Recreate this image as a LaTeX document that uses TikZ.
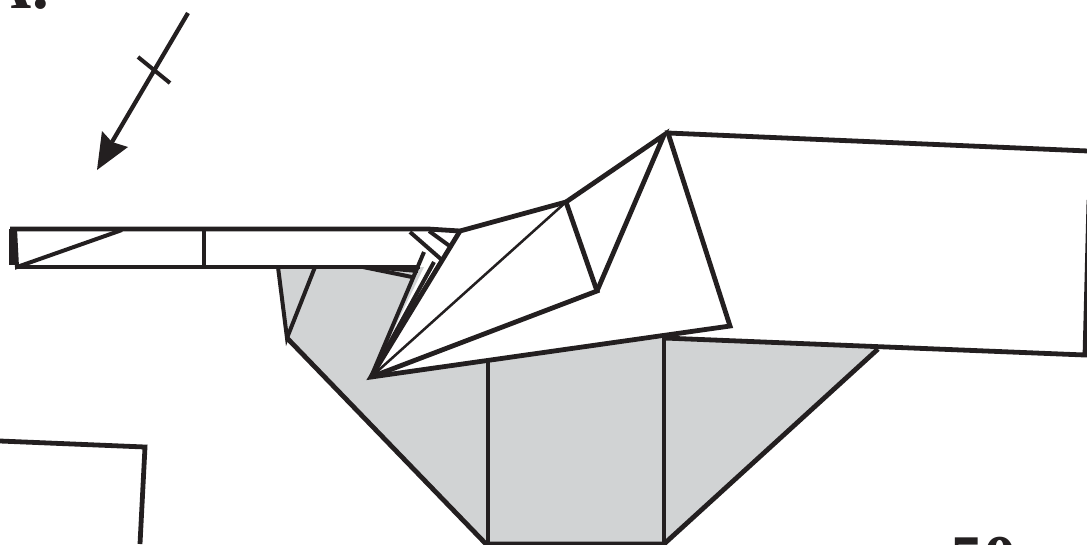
\documentclass[tikz,border=0pt]{standalone}
\usepackage{fontspec}
\setmainfont{Liberation Serif}
\definecolor{ink}{HTML}{231F20}
\definecolor{paper}{HTML}{D1D3D4}
\tikzset{
  fold/.style={draw=ink,line width=3.6pt,line join=miter,line cap=butt},
  thinfold/.style={draw=ink,line width=1.9pt},
  mid/.style={draw=ink,line width=3pt},
}
\begin{document}
\begin{tikzpicture}[x=0.75pt,y=-0.75pt]
\useasboundingbox (0,0) rectangle (1087,544);
\clip (0,0) rectangle (1087,544);
% cropped labels
\node[anchor=base east,inner sep=0pt,text=ink,font=\bfseries\fontsize{50}{50}\selectfont] at (49,8) {A.};
\node[anchor=base west,inner sep=0pt,text=ink,font=\bfseries\fontsize{50}{50}\selectfont] at (950,581) {50};
% grey paper
\fill[paper] (277,267) -- (287,338) -- (486,544) -- (664,544) -- (878,349) -- (664,338) -- (371,377) -- (424,267) -- cycle;
% left flap
\draw[fold] (10,229) -- (428,229) -- (460,231);
\draw[fold] (15,267) -- (420,267);
\draw[fold,line width=4.5pt] (12,229) -- (12,265);
\draw[mid] (15,229) -- (17,267) -- (122,230);
\draw[mid] (204,229) -- (204,267);
\draw[mid] (278,267) -- (287,338) -- (315,267);
\draw[mid] (363,267) -- (412,277);
\draw[mid] (383,268) -- (418,271);
% fold edges near the joint
\draw[mid] (410,232) -- (442,260);
\draw[mid] (429,231) -- (451,247);
\draw[mid] (424,252) -- (371,377);
\draw[mid] (434,262) -- (371,377);
\draw[thinfold] (440,262) -- (371,377);
% kite
\draw[fold] (460,231) -- (371,377) -- (730,326) -- (668,133) -- (1088,151);
\draw[fold] (460,231) -- (566,202) -- (597,291) -- (371,377);
\draw[fold] (566,202) -- (664,135) -- (597,291);
\draw[thinfold] (371,377) -- (566,202);
% right flap and lower paper
\draw[fold] (664,338) -- (1085,355) -- (1089,200);
\draw[fold] (287,338) -- (486,544) -- (664,544) -- (878,349);
\draw[fold] (488,362) -- (488,544);
\draw[fold] (664,338) -- (664,544);
% lower left sheet
\draw[fold] (0,441) -- (145,447) -- (140,544);
% arrow with tick
\coordinate (arrowstart) at (188,13);
\coordinate (arrowneck) at (112,142);
\draw[mid,line width=3.2pt] (arrowstart) -- (arrowneck);
\draw[mid] (138,57) -- (170,83);
\fill[ink] (97,170) -- (102,131) -- (112,142) -- (128,147) -- cycle;
\end{tikzpicture}
\end{document}
